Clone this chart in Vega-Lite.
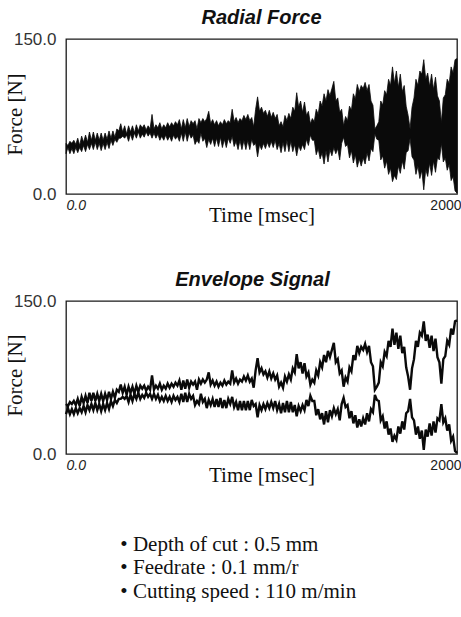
{
  "$schema": "https://vega.github.io/schema/vega-lite/v6.json",
  "padding": {"left": 3, "top": 7, "right": 0, "bottom": 0},
  "background": "white",
  "spacing": 43,
  "config": {
    "view": {"stroke": "#1a1a1a", "strokeWidth": 1.3},
    "axis": {"grid": false, "ticks": false, "domain": false},
    "title": {"color": "#111"}
  },
  "datasets": {
    "sig": [
      {"t":0,"hi":49,"lo":39},{"t":10,"hi":47,"lo":45},{"t":20,"hi":51,"lo":39},{"t":30,"hi":49,"lo":44},{"t":40,"hi":52,"lo":39},
      {"t":50,"hi":48,"lo":45},{"t":60,"hi":54,"lo":40},{"t":70,"hi":47,"lo":45},{"t":80,"hi":56,"lo":41},{"t":90,"hi":50,"lo":47},
      {"t":100,"hi":57,"lo":41},{"t":110,"hi":50,"lo":48},{"t":120,"hi":60,"lo":43},{"t":130,"hi":52,"lo":49},{"t":140,"hi":60,"lo":43},
      {"t":150,"hi":52,"lo":50},{"t":160,"hi":59,"lo":43},{"t":170,"hi":52,"lo":49},{"t":180,"hi":59,"lo":42},{"t":190,"hi":52,"lo":49},
      {"t":200,"hi":59,"lo":43},{"t":210,"hi":53,"lo":50},{"t":220,"hi":61,"lo":44},{"t":230,"hi":54,"lo":52},{"t":240,"hi":61,"lo":47},
      {"t":250,"hi":55,"lo":53},{"t":260,"hi":63,"lo":50},{"t":270,"hi":61,"lo":54},{"t":280,"hi":68,"lo":54},{"t":290,"hi":60,"lo":56},
      {"t":300,"hi":66,"lo":54},{"t":310,"hi":58,"lo":57},{"t":320,"hi":66,"lo":51},{"t":330,"hi":60,"lo":58},{"t":340,"hi":66,"lo":52},
      {"t":350,"hi":59,"lo":59},{"t":360,"hi":67,"lo":54},{"t":370,"hi":61,"lo":60},{"t":380,"hi":67,"lo":54},{"t":390,"hi":64,"lo":58},
      {"t":400,"hi":67,"lo":55},{"t":410,"hi":62,"lo":60},{"t":420,"hi":66,"lo":56},{"t":430,"hi":63,"lo":59},{"t":440,"hi":77,"lo":54},
      {"t":450,"hi":63,"lo":59},{"t":460,"hi":67,"lo":54},{"t":470,"hi":64,"lo":58},{"t":480,"hi":69,"lo":52},{"t":490,"hi":63,"lo":56},
      {"t":500,"hi":67,"lo":52},{"t":510,"hi":64,"lo":57},{"t":520,"hi":69,"lo":52},{"t":530,"hi":65,"lo":56},{"t":540,"hi":69,"lo":51},
      {"t":550,"hi":66,"lo":57},{"t":560,"hi":70,"lo":53},{"t":570,"hi":67,"lo":56},{"t":580,"hi":72,"lo":51},{"t":590,"hi":63,"lo":59},
      {"t":600,"hi":72,"lo":51},{"t":610,"hi":64,"lo":60},{"t":620,"hi":73,"lo":51},{"t":630,"hi":65,"lo":59},{"t":640,"hi":71,"lo":54},
      {"t":650,"hi":68,"lo":57},{"t":660,"hi":71,"lo":48},{"t":670,"hi":63,"lo":52},{"t":680,"hi":73,"lo":49},{"t":690,"hi":69,"lo":59},
      {"t":700,"hi":73,"lo":51},{"t":710,"hi":70,"lo":54},{"t":720,"hi":73,"lo":45},{"t":730,"hi":80,"lo":53},{"t":740,"hi":68,"lo":48},
      {"t":750,"hi":72,"lo":54},{"t":760,"hi":67,"lo":46},{"t":770,"hi":71,"lo":54},{"t":780,"hi":66,"lo":46},{"t":790,"hi":70,"lo":55},
      {"t":800,"hi":67,"lo":45},{"t":810,"hi":72,"lo":53},{"t":820,"hi":68,"lo":45},{"t":830,"hi":71,"lo":54},{"t":840,"hi":69,"lo":49},
      {"t":850,"hi":82,"lo":56},{"t":860,"hi":70,"lo":46},{"t":870,"hi":74,"lo":51},{"t":880,"hi":69,"lo":43},{"t":890,"hi":73,"lo":52},
      {"t":900,"hi":71,"lo":43},{"t":910,"hi":76,"lo":52},{"t":920,"hi":72,"lo":43},{"t":930,"hi":77,"lo":52},{"t":940,"hi":71,"lo":43},
      {"t":950,"hi":74,"lo":53},{"t":960,"hi":65,"lo":47},{"t":970,"hi":82,"lo":49},{"t":980,"hi":94,"lo":36},{"t":990,"hi":80,"lo":48},
      {"t":1000,"hi":84,"lo":43},{"t":1010,"hi":78,"lo":49},{"t":1020,"hi":81,"lo":44},{"t":1030,"hi":75,"lo":50},{"t":1040,"hi":81,"lo":45},
      {"t":1050,"hi":74,"lo":51},{"t":1060,"hi":79,"lo":45},{"t":1070,"hi":73,"lo":52},{"t":1080,"hi":77,"lo":43},{"t":1090,"hi":66,"lo":49},
      {"t":1100,"hi":70,"lo":40},{"t":1110,"hi":65,"lo":50},{"t":1120,"hi":76,"lo":41},{"t":1130,"hi":71,"lo":52},{"t":1140,"hi":78,"lo":41},
      {"t":1150,"hi":73,"lo":51},{"t":1160,"hi":84,"lo":41},{"t":1170,"hi":80,"lo":48},{"t":1180,"hi":98,"lo":37},{"t":1190,"hi":84,"lo":47},
      {"t":1200,"hi":90,"lo":42},{"t":1210,"hi":79,"lo":48},{"t":1220,"hi":89,"lo":43},{"t":1230,"hi":76,"lo":53},{"t":1240,"hi":80,"lo":47},
      {"t":1250,"hi":68,"lo":57},{"t":1260,"hi":73,"lo":52},{"t":1270,"hi":70,"lo":52},{"t":1280,"hi":82,"lo":38},{"t":1290,"hi":77,"lo":44},
      {"t":1300,"hi":90,"lo":34},{"t":1310,"hi":85,"lo":40},{"t":1320,"hi":97,"lo":29},{"t":1330,"hi":90,"lo":42},{"t":1340,"hi":101,"lo":31},
      {"t":1350,"hi":95,"lo":43},{"t":1360,"hi":102,"lo":37},{"t":1370,"hi":109,"lo":45},{"t":1380,"hi":90,"lo":39},{"t":1390,"hi":93,"lo":44},
      {"t":1400,"hi":79,"lo":33},{"t":1410,"hi":82,"lo":49},{"t":1420,"hi":66,"lo":55},{"t":1430,"hi":75,"lo":46},{"t":1440,"hi":71,"lo":48},
      {"t":1450,"hi":85,"lo":35},{"t":1460,"hi":81,"lo":42},{"t":1470,"hi":97,"lo":30},{"t":1480,"hi":92,"lo":38},{"t":1490,"hi":106,"lo":26},
      {"t":1500,"hi":99,"lo":34},{"t":1510,"hi":105,"lo":27},{"t":1520,"hi":102,"lo":35},{"t":1530,"hi":108,"lo":29},{"t":1540,"hi":100,"lo":40},
      {"t":1550,"hi":106,"lo":32},{"t":1560,"hi":90,"lo":44},{"t":1570,"hi":86,"lo":41},{"t":1580,"hi":63,"lo":58},{"t":1590,"hi":66,"lo":53},
      {"t":1600,"hi":70,"lo":52},{"t":1610,"hi":90,"lo":33},{"t":1620,"hi":86,"lo":37},{"t":1630,"hi":100,"lo":25},{"t":1640,"hi":96,"lo":32},
      {"t":1650,"hi":111,"lo":19},{"t":1660,"hi":105,"lo":25},{"t":1670,"hi":123,"lo":12},{"t":1680,"hi":107,"lo":18},{"t":1690,"hi":119,"lo":14},
      {"t":1700,"hi":103,"lo":27},{"t":1710,"hi":116,"lo":20},{"t":1720,"hi":99,"lo":32},{"t":1730,"hi":105,"lo":24},{"t":1740,"hi":85,"lo":40},
      {"t":1750,"hi":76,"lo":42},{"t":1760,"hi":63,"lo":54},{"t":1770,"hi":84,"lo":36},{"t":1780,"hi":93,"lo":33},{"t":1790,"hi":111,"lo":19},
      {"t":1800,"hi":105,"lo":27},{"t":1810,"hi":119,"lo":15},{"t":1820,"hi":116,"lo":23},{"t":1830,"hi":130,"lo":4},{"t":1840,"hi":111,"lo":24},
      {"t":1850,"hi":117,"lo":17},{"t":1860,"hi":104,"lo":30},{"t":1870,"hi":116,"lo":18},{"t":1880,"hi":101,"lo":32},{"t":1890,"hi":113,"lo":21},
      {"t":1900,"hi":95,"lo":35},{"t":1910,"hi":90,"lo":33},{"t":1920,"hi":69,"lo":49},{"t":1930,"hi":93,"lo":31},{"t":1940,"hi":96,"lo":35},
      {"t":1950,"hi":111,"lo":23},{"t":1960,"hi":107,"lo":29},{"t":1970,"hi":123,"lo":13},{"t":1980,"hi":117,"lo":17},{"t":1990,"hi":130,"lo":3},
      {"t":2000,"hi":131,"lo":1}
    ]
  },
  "title": {
    "text": ["• Depth of cut : 0.5 mm", "• Feedrate : 0.1 mm/r", "• Cutting speed : 110 m/min"],
    "orient": "bottom",
    "anchor": "start",
    "align": "left",
    "dx": 117,
    "offset": 48,
    "font": "Liberation Serif",
    "fontSize": 21,
    "fontWeight": "normal",
    "lineHeight": 23.5,
    "color": "#111"
  },
  "vconcat": [
    {
      "title": {"text": "Radial Force", "font": "Liberation Sans", "fontStyle": "italic", "fontWeight": "bold", "fontSize": 20, "frame": "group", "anchor": "middle", "offset": 2, "color": "#111"},
      "width": 391,
      "height": 155,
      "data": {"name": "sig"},
      "mark": {"type": "area", "color": "#0a0a0a", "opacity": 1, "stroke": "#0a0a0a", "strokeWidth": 0.8},
      "encoding": {
        "x": {"field": "t", "type": "quantitative", "scale": {"domain": [0, 2000], "nice": false},
          "axis": {"values": [0, 2000], "labelExpr": "datum.value == 0 ? '0.0' : '2000'",
            "labelAlign": {"expr": "datum.value == 0 ? 'left' : 'right'"},
            "labelFontStyle": {"expr": "datum.value == 0 ? 'italic' : 'normal'"},
            "labelOffset": {"expr": "datum.value == 0 ? 0 : 4"},
            "labelFont": "Liberation Sans", "labelFontSize": 14, "labelColor": "#222", "labelPadding": 4, "labelBaseline": "top",
            "title": "Time [msec]", "titleFont": "Liberation Serif", "titleFontSize": 21, "titleFontWeight": "normal", "titleColor": "#111",
            "titleY": 27, "titleBaseline": "alphabetic"}},
        "y": {"field": "lo", "type": "quantitative", "scale": {"domain": [0, 150], "nice": false},
          "axis": {"values": [0, 150], "format": ".1f", "labelFont": "Liberation Sans", "labelFontSize": 17, "labelColor": "#333", "labelPadding": 10,
            "title": "Force [N]", "titleFont": "Liberation Serif", "titleFontSize": 21, "titleFontWeight": "normal", "titleColor": "#111",
            "titleX": -45, "titleY": 75, "titleBaseline": "alphabetic", "titleAngle": -90}},
        "y2": {"field": "hi"}
      }
    },
    {
      "title": {"text": "Envelope Signal", "font": "Liberation Sans", "fontStyle": "italic", "fontWeight": "bold", "fontSize": 20, "frame": "group", "anchor": "middle", "offset": 2, "dx": -9, "color": "#111"},
      "width": 391,
      "height": 153,
      "data": {"name": "sig"},
      "encoding": {
        "x": {"field": "t", "type": "quantitative", "scale": {"domain": [0, 2000], "nice": false},
          "axis": {"values": [0, 2000], "labelExpr": "datum.value == 0 ? '0.0' : '2000'",
            "labelAlign": {"expr": "datum.value == 0 ? 'left' : 'right'"},
            "labelFontStyle": {"expr": "datum.value == 0 ? 'italic' : 'normal'"},
            "labelOffset": {"expr": "datum.value == 0 ? 0 : 4"},
            "labelFont": "Liberation Sans", "labelFontSize": 14, "labelColor": "#222", "labelPadding": 4, "labelBaseline": "top",
            "title": "Time [msec]", "titleFont": "Liberation Serif", "titleFontSize": 21, "titleFontWeight": "normal", "titleColor": "#111",
            "titleY": 27, "titleBaseline": "alphabetic"}}
      },
      "layer": [
        {
          "mark": {"type": "line", "color": "#0a0a0a", "strokeWidth": 2.4},
          "encoding": {
            "y": {"field": "hi", "type": "quantitative", "scale": {"domain": [0, 150], "nice": false},
              "axis": {"values": [0, 150], "format": ".1f", "labelFont": "Liberation Sans", "labelFontSize": 17, "labelColor": "#333", "labelPadding": 10,
                "title": "Force [N]", "titleFont": "Liberation Serif", "titleFontSize": 21, "titleFontWeight": "normal", "titleColor": "#111",
                "titleX": -45, "titleY": 74, "titleBaseline": "alphabetic", "titleAngle": -90}}
          }
        },
        {
          "mark": {"type": "line", "color": "#0a0a0a", "strokeWidth": 2.4},
          "encoding": {
            "y": {"field": "lo", "type": "quantitative"}
          }
        }
      ]
    }
  ]
}
